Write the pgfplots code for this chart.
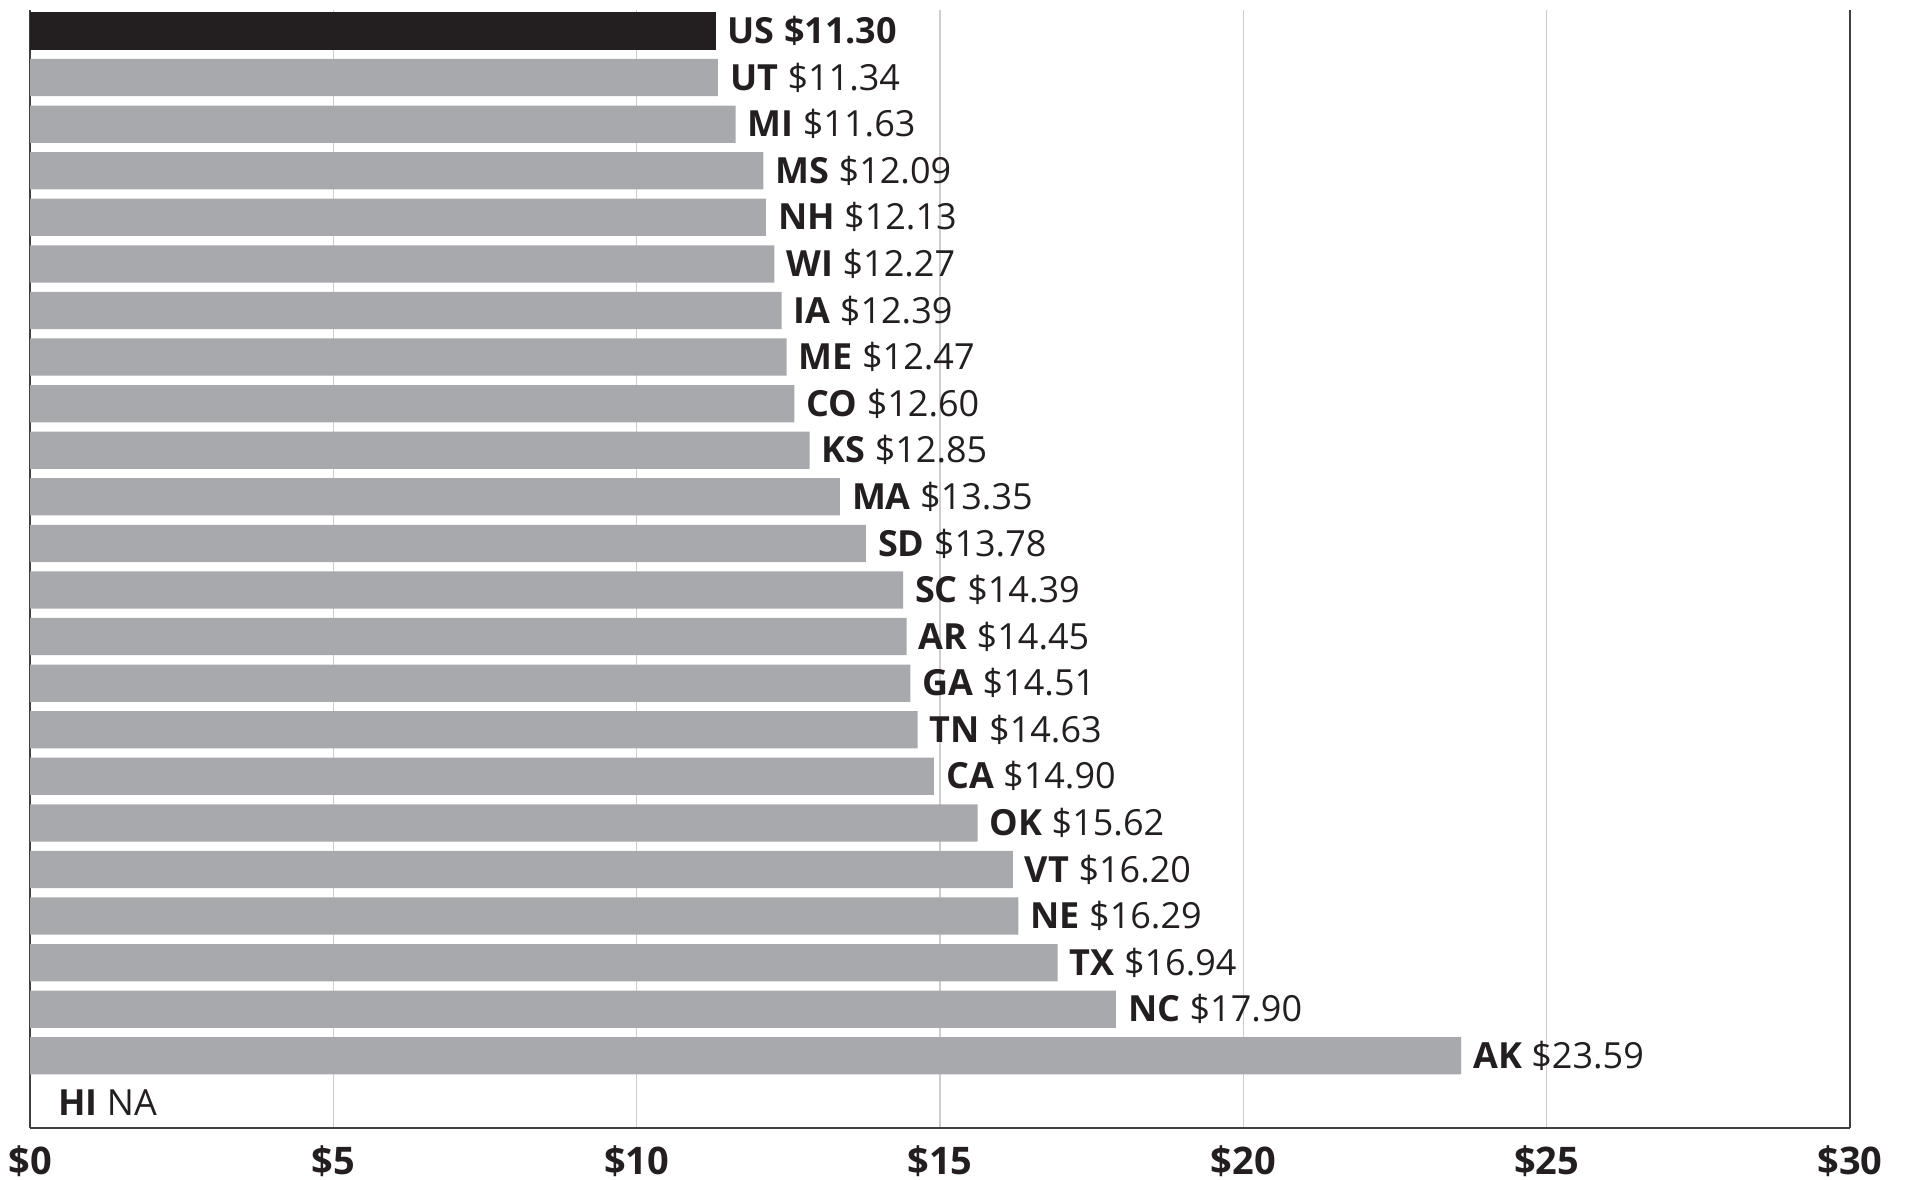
\documentclass[border=0pt]{standalone}
\usepackage{fontspec}
\setmainfont{Open Sans}
\usepackage{pgfplots}
\pgfplotsset{compat=1.18}
\definecolor{barg}{HTML}{A7A9AC}
\definecolor{barus}{HTML}{231F20}
\definecolor{gridc}{HTML}{CDCDCD}
\definecolor{txt}{HTML}{231F20}
\begin{document}
\begin{tikzpicture}
\begin{axis}[
  scale only axis,
  width=455pt, height=279.5pt,
  xbar, bar width=0.8, bar shift=0pt,
  y dir=reverse,
  xmin=0, xmax=30,
  ymin=-0.45, ymax=23.55,
  axis x line=bottom,
  axis y line=box,
  axis line style={-, draw=black!75, line width=0.6pt},
  ytick=\empty,
  xtick={0,5,10,15,20,25,30},
  xticklabels={\$0,\$5,\$10,\$15,\$20,\$25,\$30},
  xticklabel style={font=\fontsize{9.5}{11}\selectfont\bfseries, text=txt, yshift=-1pt},
  major tick length=0pt,
  xmajorgrids,
  grid style={draw=gridc, line width=0.4pt},
  nodes near coords,
  point meta=explicit symbolic,
  every node near coord/.append style={anchor=west, xshift=-0.5pt, font=\fontsize{9}{10}\selectfont, text=txt},
  clip=false,
]
\addplot[fill=barus, draw=none] coordinates {
(11.30,0) [\textbf{US \$11.30}]
};
\addplot[fill=barg, draw=none] coordinates {
(11.34,1) [\textbf{UT} \$11.34]
(11.63,2) [\textbf{MI} \$11.63]
(12.09,3) [\textbf{MS} \$12.09]
(12.13,4) [\textbf{NH} \$12.13]
(12.27,5) [\textbf{WI} \$12.27]
(12.39,6) [\textbf{IA} \$12.39]
(12.47,7) [\textbf{ME} \$12.47]
(12.60,8) [\textbf{CO} \$12.60]
(12.85,9) [\textbf{KS} \$12.85]
(13.35,10) [\textbf{MA} \$13.35]
(13.78,11) [\textbf{SD} \$13.78]
(14.39,12) [\textbf{SC} \$14.39]
(14.45,13) [\textbf{AR} \$14.45]
(14.51,14) [\textbf{GA} \$14.51]
(14.63,15) [\textbf{TN} \$14.63]
(14.90,16) [\textbf{CA} \$14.90]
(15.62,17) [\textbf{OK} \$15.62]
(16.20,18) [\textbf{VT} \$16.20]
(16.29,19) [\textbf{NE} \$16.29]
(16.94,20) [\textbf{TX} \$16.94]
(17.90,21) [\textbf{NC} \$17.90]
(23.59,22) [\textbf{AK} \$23.59]
};
\addplot[fill=none, draw=none, every node near coord/.append style={xshift=4pt}] coordinates {
(0,23) [\textbf{HI} NA]
};
\end{axis}
\pgfresetboundingbox
\path (current axis.south west) +(-7.5pt,-12.75pt) (current axis.north east) +(14pt,2.5pt);
\end{tikzpicture}
\end{document}
